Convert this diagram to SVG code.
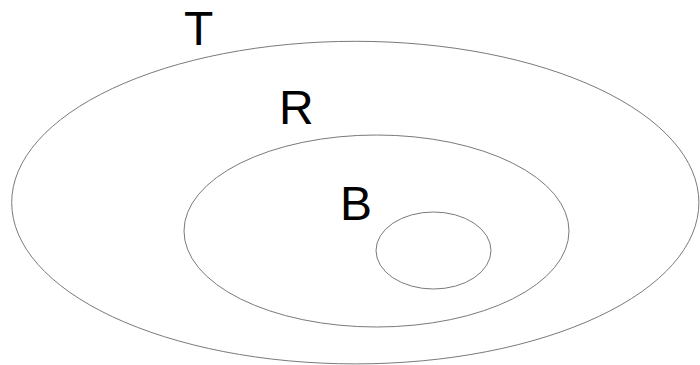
<svg xmlns="http://www.w3.org/2000/svg" width="700" height="365" viewBox="0 0 700 365">
<style>
.set{fill:none;stroke:#7a7a7a;stroke-width:1}
.lbl{font-family:"Liberation Sans",Arial,sans-serif;font-size:48px;fill:#000}
</style>
<rect width="700" height="365" fill="#fff"/>
<g id="T">
<ellipse class="set" cx="355.3" cy="202.6" rx="343.6" ry="161.3"/>
<text class="lbl" x="184" y="45">T</text>
</g>
<g id="R">
<ellipse class="set" cx="376.5" cy="231" rx="192.5" ry="96"/>
<text class="lbl" x="279" y="124">R</text>
</g>
<g id="B">
<ellipse class="set" cx="433.5" cy="250.5" rx="57.5" ry="38.5"/>
<text class="lbl" x="340" y="220">B</text>
</g>
<g id="connectors"/>
</svg>
